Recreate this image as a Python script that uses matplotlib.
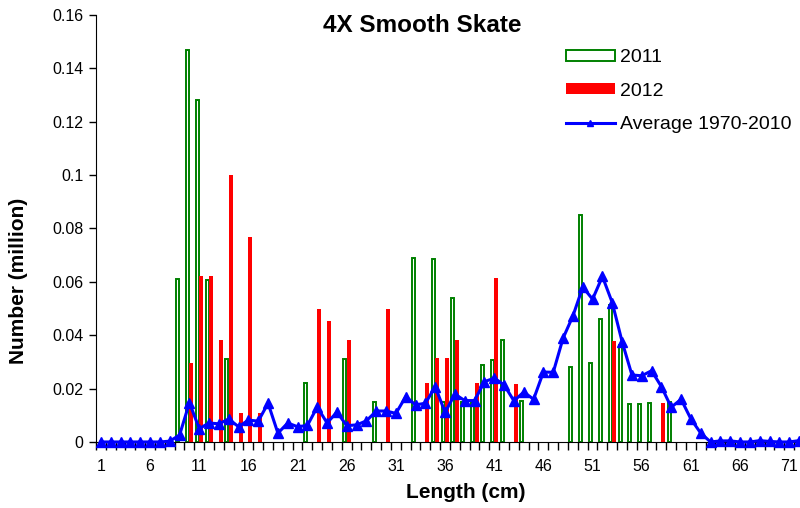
import matplotlib
matplotlib.use('Agg')
import matplotlib.pyplot as plt
from matplotlib.ticker import FixedLocator

plt.rcParams['font.family'] = ['Liberation Sans', 'DejaVu Sans']

# length classes (cm)
lengths = list(range(1, 73))

# 2011 survey (million), lengths with catch only
len_2011 = [9, 10, 11, 12, 14, 22, 26, 29, 33, 35, 36, 37, 38, 39, 40, 41, 42, 44,
            49, 50, 51, 52, 53, 54, 55, 56, 57, 59]
num_2011 = [0.061, 0.147, 0.128, 0.0607, 0.031, 0.022, 0.031, 0.015, 0.069, 0.0685,
            0.015, 0.054, 0.015, 0.015, 0.0287, 0.0307, 0.0382, 0.0155,
            0.0282, 0.085, 0.0297, 0.046, 0.0513, 0.0363, 0.0141, 0.0141, 0.0145, 0.015]

# 2012 survey
len_2012 = [10, 11, 12, 13, 14, 15, 16, 17, 23, 24, 26, 30, 34, 35, 36, 37, 39, 41, 43, 53, 58]
num_2012 = [0.0295, 0.062, 0.062, 0.0382, 0.100, 0.011, 0.0769, 0.011, 0.0497, 0.0455,
            0.0382, 0.0497, 0.0222, 0.0314, 0.0314, 0.0382, 0.0222, 0.0613, 0.0218,
            0.0377, 0.0145]

# average 1970-2010, one value per length class
avg_7010 = [0, 0, 0, 0, 0, 0, 0, 0.0003, 0.0026, 0.0147,
            0.005, 0.0071, 0.0068, 0.0086, 0.0057, 0.0082, 0.0078, 0.0145, 0.0033, 0.0071,
            0.0057, 0.0062, 0.0131, 0.0071, 0.0112, 0.0061, 0.0064, 0.0079, 0.0116, 0.0116,
            0.0107, 0.017, 0.0139, 0.0145, 0.0207, 0.0111, 0.0179, 0.0155, 0.0155, 0.0226,
            0.0239, 0.0214, 0.0154, 0.0187, 0.016, 0.0262, 0.0261, 0.0389, 0.0472, 0.058,
            0.0535, 0.062, 0.0522, 0.0376, 0.0251, 0.0248, 0.0267, 0.0207, 0.013, 0.016,
            0.0086, 0.0033, 0, 0.0004, 0.0004, 0, 0, 0.0005, 0.0002, 0,
            0, 0.0005]

yticks = [0, 0.02, 0.04, 0.06, 0.08, 0.1, 0.12, 0.14, 0.16]
ytick_labels = ['0', '0.02', '0.04', '0.06', '0.08', '0.1', '0.12', '0.14', '0.16']
xtick_vals = list(range(1, 72, 5))

fig = plt.figure(figsize=(8, 5.08), dpi=100)
ax = fig.add_axes([0.12, 0.13, 0.885, 0.8406])

b11 = ax.bar([x - 0.2 for x in len_2011], num_2011, width=0.3, facecolor='white',
             edgecolor='#008000', linewidth=1.4, label='2011', zorder=2)
b12 = ax.bar([x + 0.2 for x in len_2012], num_2012, width=0.4, color='#ff0000',
             label='2012', zorder=2)
ln, = ax.plot(lengths, avg_7010, color='#0000ff', linewidth=2.2, marker='^', markersize=7.5,
              label='Average 1970-2010', zorder=3, clip_on=False)

ax.set_xlim(0.5, 72.5)
ax.set_ylim(0, 0.16)
ax.set_yticks(yticks)
ax.set_yticklabels(ytick_labels)
ax.set_xticks(xtick_vals)
ax.set_xticklabels([str(v) for v in xtick_vals])
ax.xaxis.set_minor_locator(FixedLocator([x + 0.5 for x in range(0, 73)]))
ax.tick_params(axis='x', which='major', length=0, labelsize=11.5, pad=12)
ax.tick_params(axis='x', which='minor', length=6, width=1, direction='out')
ax.tick_params(axis='y', length=5, width=1, labelsize=11.5, pad=4)

for s in ['top', 'right']:
    ax.spines[s].set_visible(False)

# axis titles and chart title placed in figure coords
fig.text(466 / 800, 1 - 498 / 508, 'Length (cm)', fontsize=15, fontweight='bold',
         ha='center', va='baseline')
fig.text(19 / 800, 1 - 281 / 508, 'Number (million)', fontsize=15, fontweight='bold',
         ha='center', va='center', rotation=90)
fig.text(422 / 800, 1 - 32 / 508, '4X Smooth Skate', fontsize=17.5, fontweight='bold',
         ha='center', va='baseline')

leg = ax.legend([b11, b12, ln], ['2011', '2012', 'Average 1970-2010'],
                loc='upper left', bbox_to_anchor=(566 / 800, 1 - 49 / 508),
                bbox_transform=fig.transFigure, frameon=False, fontsize=14,
                handlelength=2.5, handleheight=0.5, labelspacing=0.85,
                handletextpad=0.3, borderpad=0, borderaxespad=0)
leg.legend_handles[2].set_markersize(5)

fig.savefig('out.png', dpi=100)
